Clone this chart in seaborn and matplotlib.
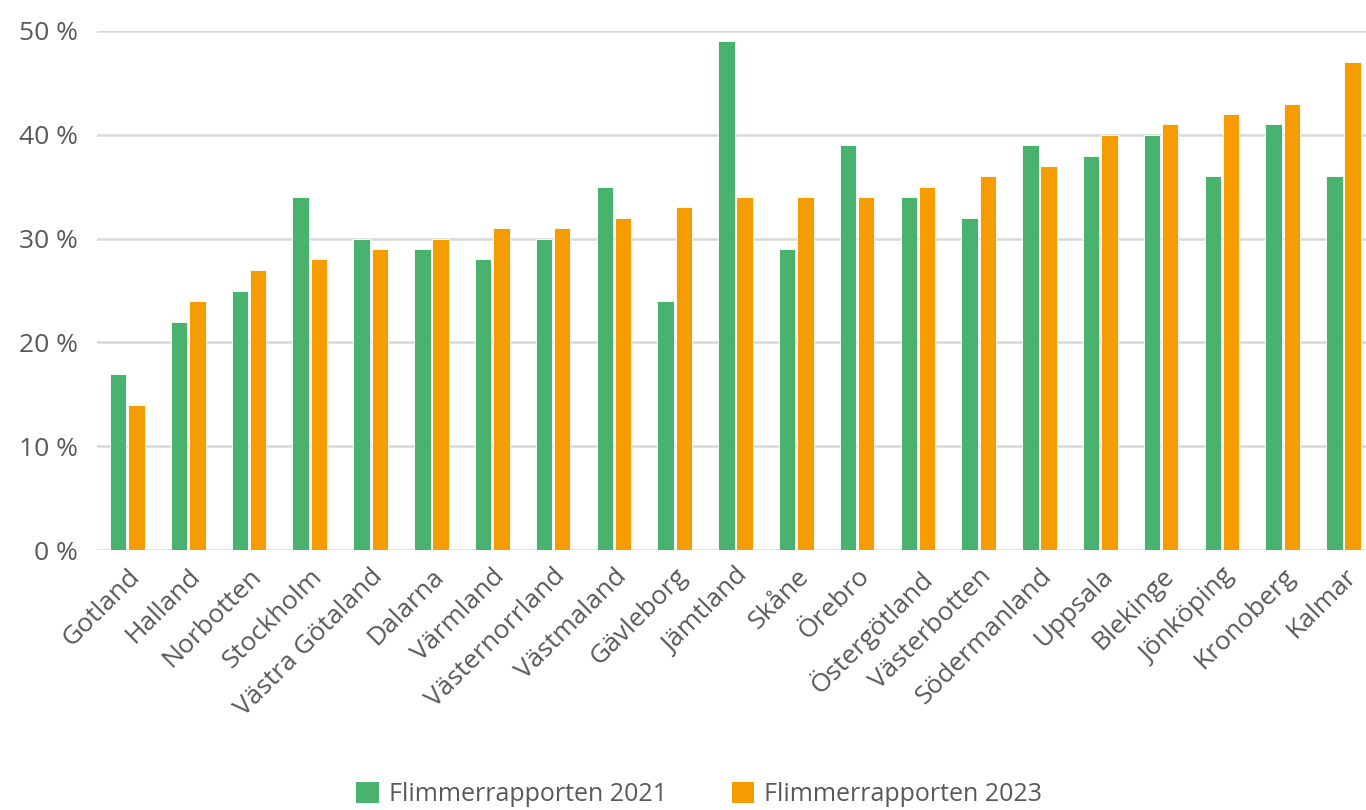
import matplotlib
matplotlib.use("Agg")
import matplotlib.pyplot as plt
import seaborn as sns
import pandas as pd
from matplotlib.patches import Patch

regions = ["Gotland", "Halland", "Norbotten", "Stockholm", "Västra Götaland", "Dalarna",
           "Värmland", "Västernorrland", "Västmaland", "Gävleborg", "Jämtland", "Skåne",
           "Örebro", "Östergötland", "Västerbotten", "Södermanland", "Uppsala", "Blekinge",
           "Jönköping", "Kronoberg", "Kalmar"]
values_2021 = [17, 22, 25, 34, 30, 29, 28, 30, 35, 24, 49, 29, 39, 34, 32, 39, 38, 40, 36, 41, 36]
values_2023 = [14, 24, 27, 28, 29, 30, 31, 31, 32, 33, 34, 34, 34, 35, 36, 37, 40, 41, 42, 43, 47]
series_names = ["Flimmerrapporten 2021", "Flimmerrapporten 2023"]
yticks = [0, 10, 20, 30, 40, 50]

colors = ["#49B26F", "#F59C00"]
text_color = "#595959"

df = pd.DataFrame({
    "region": regions * 2,
    "value": values_2021 + values_2023,
    "series": [series_names[0]] * len(regions) + [series_names[1]] * len(regions),
})

sns.set_theme(style="white")
plt.rcParams['font.family'] = ['Open Sans', 'DejaVu Sans']

fig = plt.figure(figsize=(13.66, 8.10), dpi=100)
ax = fig.add_axes([97 / 1366, (810 - 550) / 810, 1269 / 1366, (550 - 31) / 810])

sns.barplot(data=df, x="region", y="value", hue="series", palette=colors,
            order=regions, hue_order=series_names, width=0.6, gap=0.1,
            saturation=1, edgecolor="white", linewidth=0.6, ax=ax,
            legend=False, errorbar=None)

ax.set_ylim(0, 50)
ax.set_xlim(-0.5, 20.37)
ax.set_yticks(yticks)
ax.set_yticklabels([f"{v} %" for v in yticks])
ax.yaxis.grid(True, color="#D9D9D9", linewidth=1.8)
ax.set_axisbelow(True)
for s in ax.spines.values():
    s.set_visible(False)
ax.set_xlabel("")
ax.set_ylabel("")
ax.tick_params(axis="y", length=0, pad=14, labelsize=19, labelcolor=text_color)
ax.tick_params(axis="x", length=0, pad=10, labelsize=19, labelcolor=text_color)
for lbl in ax.get_xticklabels():
    lbl.set_rotation(45)
    lbl.set_ha("right")
    lbl.set_rotation_mode("anchor")

handles = [Patch(facecolor=c, edgecolor="none") for c in colors]
fig.legend(handles, series_names, loc="center", bbox_to_anchor=(0.512, 0.019), ncol=2,
           frameon=False, fontsize=18, labelcolor=text_color, handlelength=0.9,
           handleheight=0.9, handletextpad=0.4, columnspacing=2.6)

fig.savefig("out.png", dpi=100)
